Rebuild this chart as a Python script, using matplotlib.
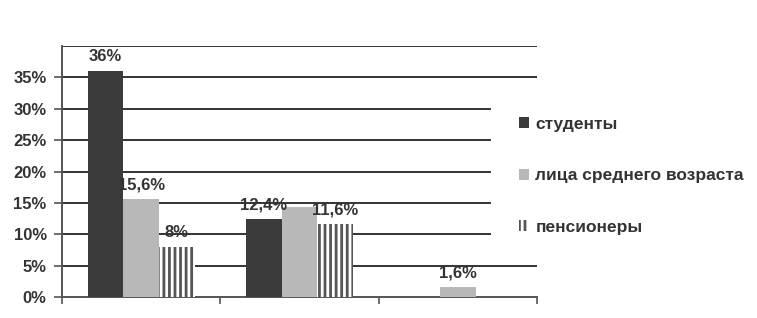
import numpy as np
import matplotlib
matplotlib.use("Agg")
from matplotlib import pyplot as plt

# data
groups = ["", "", ""]
series = ["студенты", "лица среднего возраста", "пенсионеры"]
students = [36, 12.4, 0]
middle_age = [15.6, 14.4, 1.6]
pensioners = [8, 11.6, 0]
labels_students = ["36%", "12,4%", ""]
labels_middle = ["15,6%", "", "1,6%"]
labels_pens = ["8%", "11,6%", ""]
yticks = [0, 5, 10, 15, 20, 25, 30, 35]

plt.rcParams['font.family'] = ['Liberation Sans', 'DejaVu Sans']
plt.rcParams['font.weight'] = 'bold'
plt.rcParams['hatch.linewidth'] = 2.0
plt.rcParams['hatch.color'] = '#555555'

fig = plt.figure(figsize=(7.57, 3.18), dpi=100)
ax = fig.add_axes([62/757, 1 - 297/318, (537 - 62)/757, (297 - 46)/318])

x = np.arange(len(groups))
w = 0.225
dark = '#3b3b3b'
light = '#b8b8b8'

b1 = ax.bar(x - w, students, w, color=dark, zorder=3, label=series[0])
b2 = ax.bar(x, middle_age, w, color=light, zorder=3, label=series[1])
b3 = ax.bar(x + w, pensioners, w, color='white', hatch='|||', edgecolor='#555555',
            linewidth=0, zorder=3, label=series[2])

for bars, labs in [(b1, labels_students), (b2, labels_middle), (b3, labels_pens)]:
    for rect, lab in zip(bars, labs):
        if lab:
            ax.annotate(lab, (rect.get_x() + rect.get_width()/2, rect.get_height()),
                        xytext=(0, 5), textcoords='offset points',
                        ha='center', va='bottom', fontsize=12, fontweight='bold',
                        color='#333333', zorder=4)

ax.set_xlim(-0.5, 2.5)
ax.set_ylim(0, 40)

# gridlines (partly cut by legend in the original)
for yv in [5, 10, 15, 20, 25, 30, 35, 40]:
    xmax = 1.0 if yv in (5, 35, 40) else (490 - 62) / (537 - 62)
    ax.axhline(yv, xmin=0, xmax=xmax, color='#333333', lw=1.4, zorder=1)

ax.set_yticks(yticks)
ax.set_yticklabels([f"{v}%" for v in yticks], fontsize=12, fontweight='bold', color='#333333')
ax.set_xticks([-0.5, 0.5, 1.5, 2.5])
ax.set_xticklabels([])
ax.tick_params(axis='y', length=6, width=1.2, color='#555555', pad=5)
ax.tick_params(axis='x', length=5, width=1.2, color='#555555')

for s in ['top', 'right']:
    ax.spines[s].set_visible(False)
ax.spines['left'].set_color('#555555')
ax.spines['left'].set_linewidth(1.4)
ax.spines['bottom'].set_color('#555555')
ax.spines['bottom'].set_linewidth(1.4)

fig.legend(handles=[b1, b2, b3], labels=series, loc='upper left',
           bbox_to_anchor=(519/757, 1 - 117/318), frameon=False,
           prop={'size': 12.5, 'weight': 'bold'}, labelcolor='#333333',
           handlelength=0.6, handleheight=0.6, handletextpad=0.35,
           labelspacing=2.1, borderaxespad=0, borderpad=0)

fig.savefig("out.png", dpi=100)
